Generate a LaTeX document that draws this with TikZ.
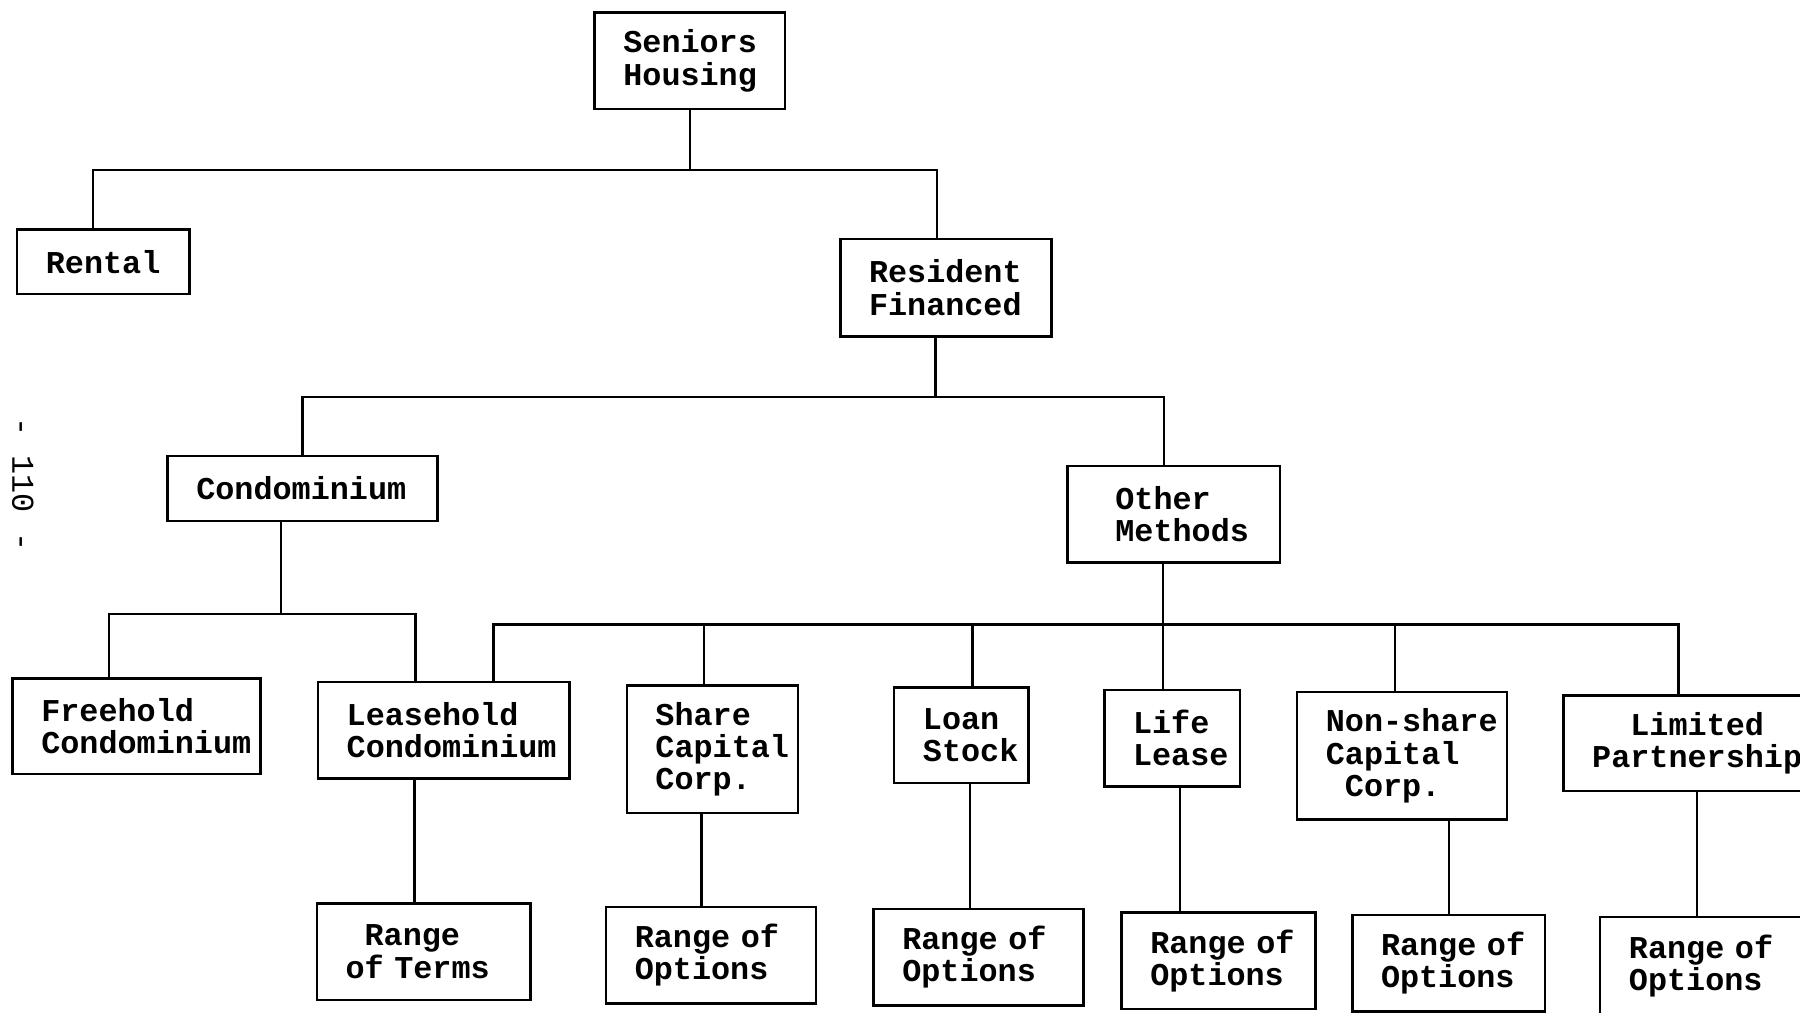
\documentclass[tikz,border=0pt]{standalone}
\usepackage{fontspec}
\usetikzlibrary{calc}
\newfontfamily\boxfont[HyphenChar=None]{Liberation Mono}
\begin{document}
\begin{tikzpicture}[x=0.574pt,y=-0.574pt,
  box/.style={draw, line width=1.2pt, inner xsep=14.35pt, inner ysep=0pt, align=left,
    font=\boxfont\bfseries\fontsize{15.9}{16.1}\selectfont},
  wh/.code 2 args={\pgfmathsetlengthmacro\mytw{(#1-50)*0.574pt}\pgfmathsetlengthmacro\mymh{#2*0.574pt}\tikzset{text width=\mytw, minimum height=\mymh}},
  conn/.style={line width=1.2pt}]
\path[use as bounding box, fill=white] (0,0) rectangle (1568,882);
\clip (0,0) rectangle (1568,882);

% nodes
\node[box, wh={166}{84}] (sh) at (601,53) {Seniors\\Housing};
\node[box, wh={150}{56}] (rental) at (90,228) {Rental};
\node[box, wh={184}{85}] (rf) at (824,250.5) {Resident\\Financed};
\node[box, wh={235}{57}] (condo) at (263.5,425.5) {Condominium};
\node[box, wh={185}{84}] (other) at (1022.5,448) {\hphantom{X}Other\\\hphantom{X}Methods};
\node[box, wh={216}{83}] (free) at (119,632.5) {Freehold\\Condominium};
\node[box, wh={219}{84}] (lease) at (386.5,636) {Leasehold\\Condominium};
\node[box, wh={149}{111}] (share) at (620.5,652.5) {Share\\Capital\\Corp.};
\node[box, wh={117}{83}] (loan) at (837.5,640.5) {Loan\\Stock};
\node[box, wh={118}{84}] (life) at (1021,643) {Life\\Lease};
\node[box, wh={183}{111}] (nonshare) at (1221.5,658.5) {Non-share\\Capital\\\hphantom{X}Corp.};
\node[box, wh={238}{83}] (limited) at (1481,647.5) {\hphantom{XX}Limited\\Partnership};
\node[box, wh={186}{84}] (rt) at (369,829) {\hphantom{X}Range\\of~Terms};
\node[box, wh={183}{84}] (ro1) at (619.5,832) {Range~of\\Options};
\node[box, wh={183}{84}] (ro2) at (852.5,834) {Range~of\\Options};
\node[box, wh={169}{84}] (ro3) at (1061.5,837) {Range~of\\Options};
\node[box, wh={168}{84}] (ro4) at (1262,839) {Range~of\\Options};
\node[box, wh={182}{85}] (ro5) at (1485,841.5) {Range~of\\Options};

\node[rotate=-90, font=\boxfont\fontsize{15.9}{16.1}\selectfont] (pg) at (20,422) {-~110~-};

% level 1
\coordinate (b1) at (601,148);
\draw[conn] (sh.south) -- (b1);
\draw[conn] ($(rental.north)+(-9,0)$) |- (b1) -| ($(rf.north)+(-8,0)$);

% level 2
\coordinate (p2) at ($(rf.south)+(-9,0)$);
\coordinate (b2) at (p2 |- 0,346);
\draw[conn] (p2) -- (b2);
\draw[conn] (condo.north) |- (b2) -| ($(other.north)+(-8.5,0)$);

% condominium
\coordinate (p3) at ($(condo.south)+(-18.5,0)$);
\coordinate (b3) at (p3 |- 0,535);
\draw[conn] (p3) -- (b3);
\draw[conn] ($(free.north)+(-24,0)$) |- (b3) -| ($(lease.north)+(-24.5,0)$);

% other methods
\coordinate (p4) at ($(other.south)+(-9.5,0)$);
\coordinate (b4) at (p4 |- 0,544);
\draw[conn] (p4) -- (p4 |- life.north);
\draw[conn] ($(lease.north)+(43.5,0)$) |- (b4) -| ($(limited.north)+(-19,0)$);
\draw[conn] (b4) -| ($(share.north)+(-7.5,0)$);
\draw[conn] (b4) -| ($(loan.north)+(9.5,0)$);
\draw[conn] (b4) -| ($(nonshare.north)+(-6.5,0)$);

% ranges
\coordinate (q1) at ($(lease.south)+(-25.5,0)$);
\draw[conn] (q1) -- (q1 |- rt.north);
\coordinate (q2) at ($(share.south)+(-9.5,0)$);
\draw[conn] (q2) -- (q2 |- ro1.north);
\coordinate (q3) at ($(loan.south)+(7.5,0)$);
\draw[conn] (q3) -- (q3 |- ro2.north);
\coordinate (q4) at ($(life.south)+(7,0)$);
\draw[conn] (q4) -- (q4 |- ro3.north);
\coordinate (q5) at ($(nonshare.south)+(40.5,0)$);
\draw[conn] (q5) -- (q5 |- ro4.north);
\coordinate (q6) at ($(limited.south)+(-3,0)$);
\draw[conn] (q6) -- (q6 |- ro5.north);
\end{tikzpicture}
\end{document}
